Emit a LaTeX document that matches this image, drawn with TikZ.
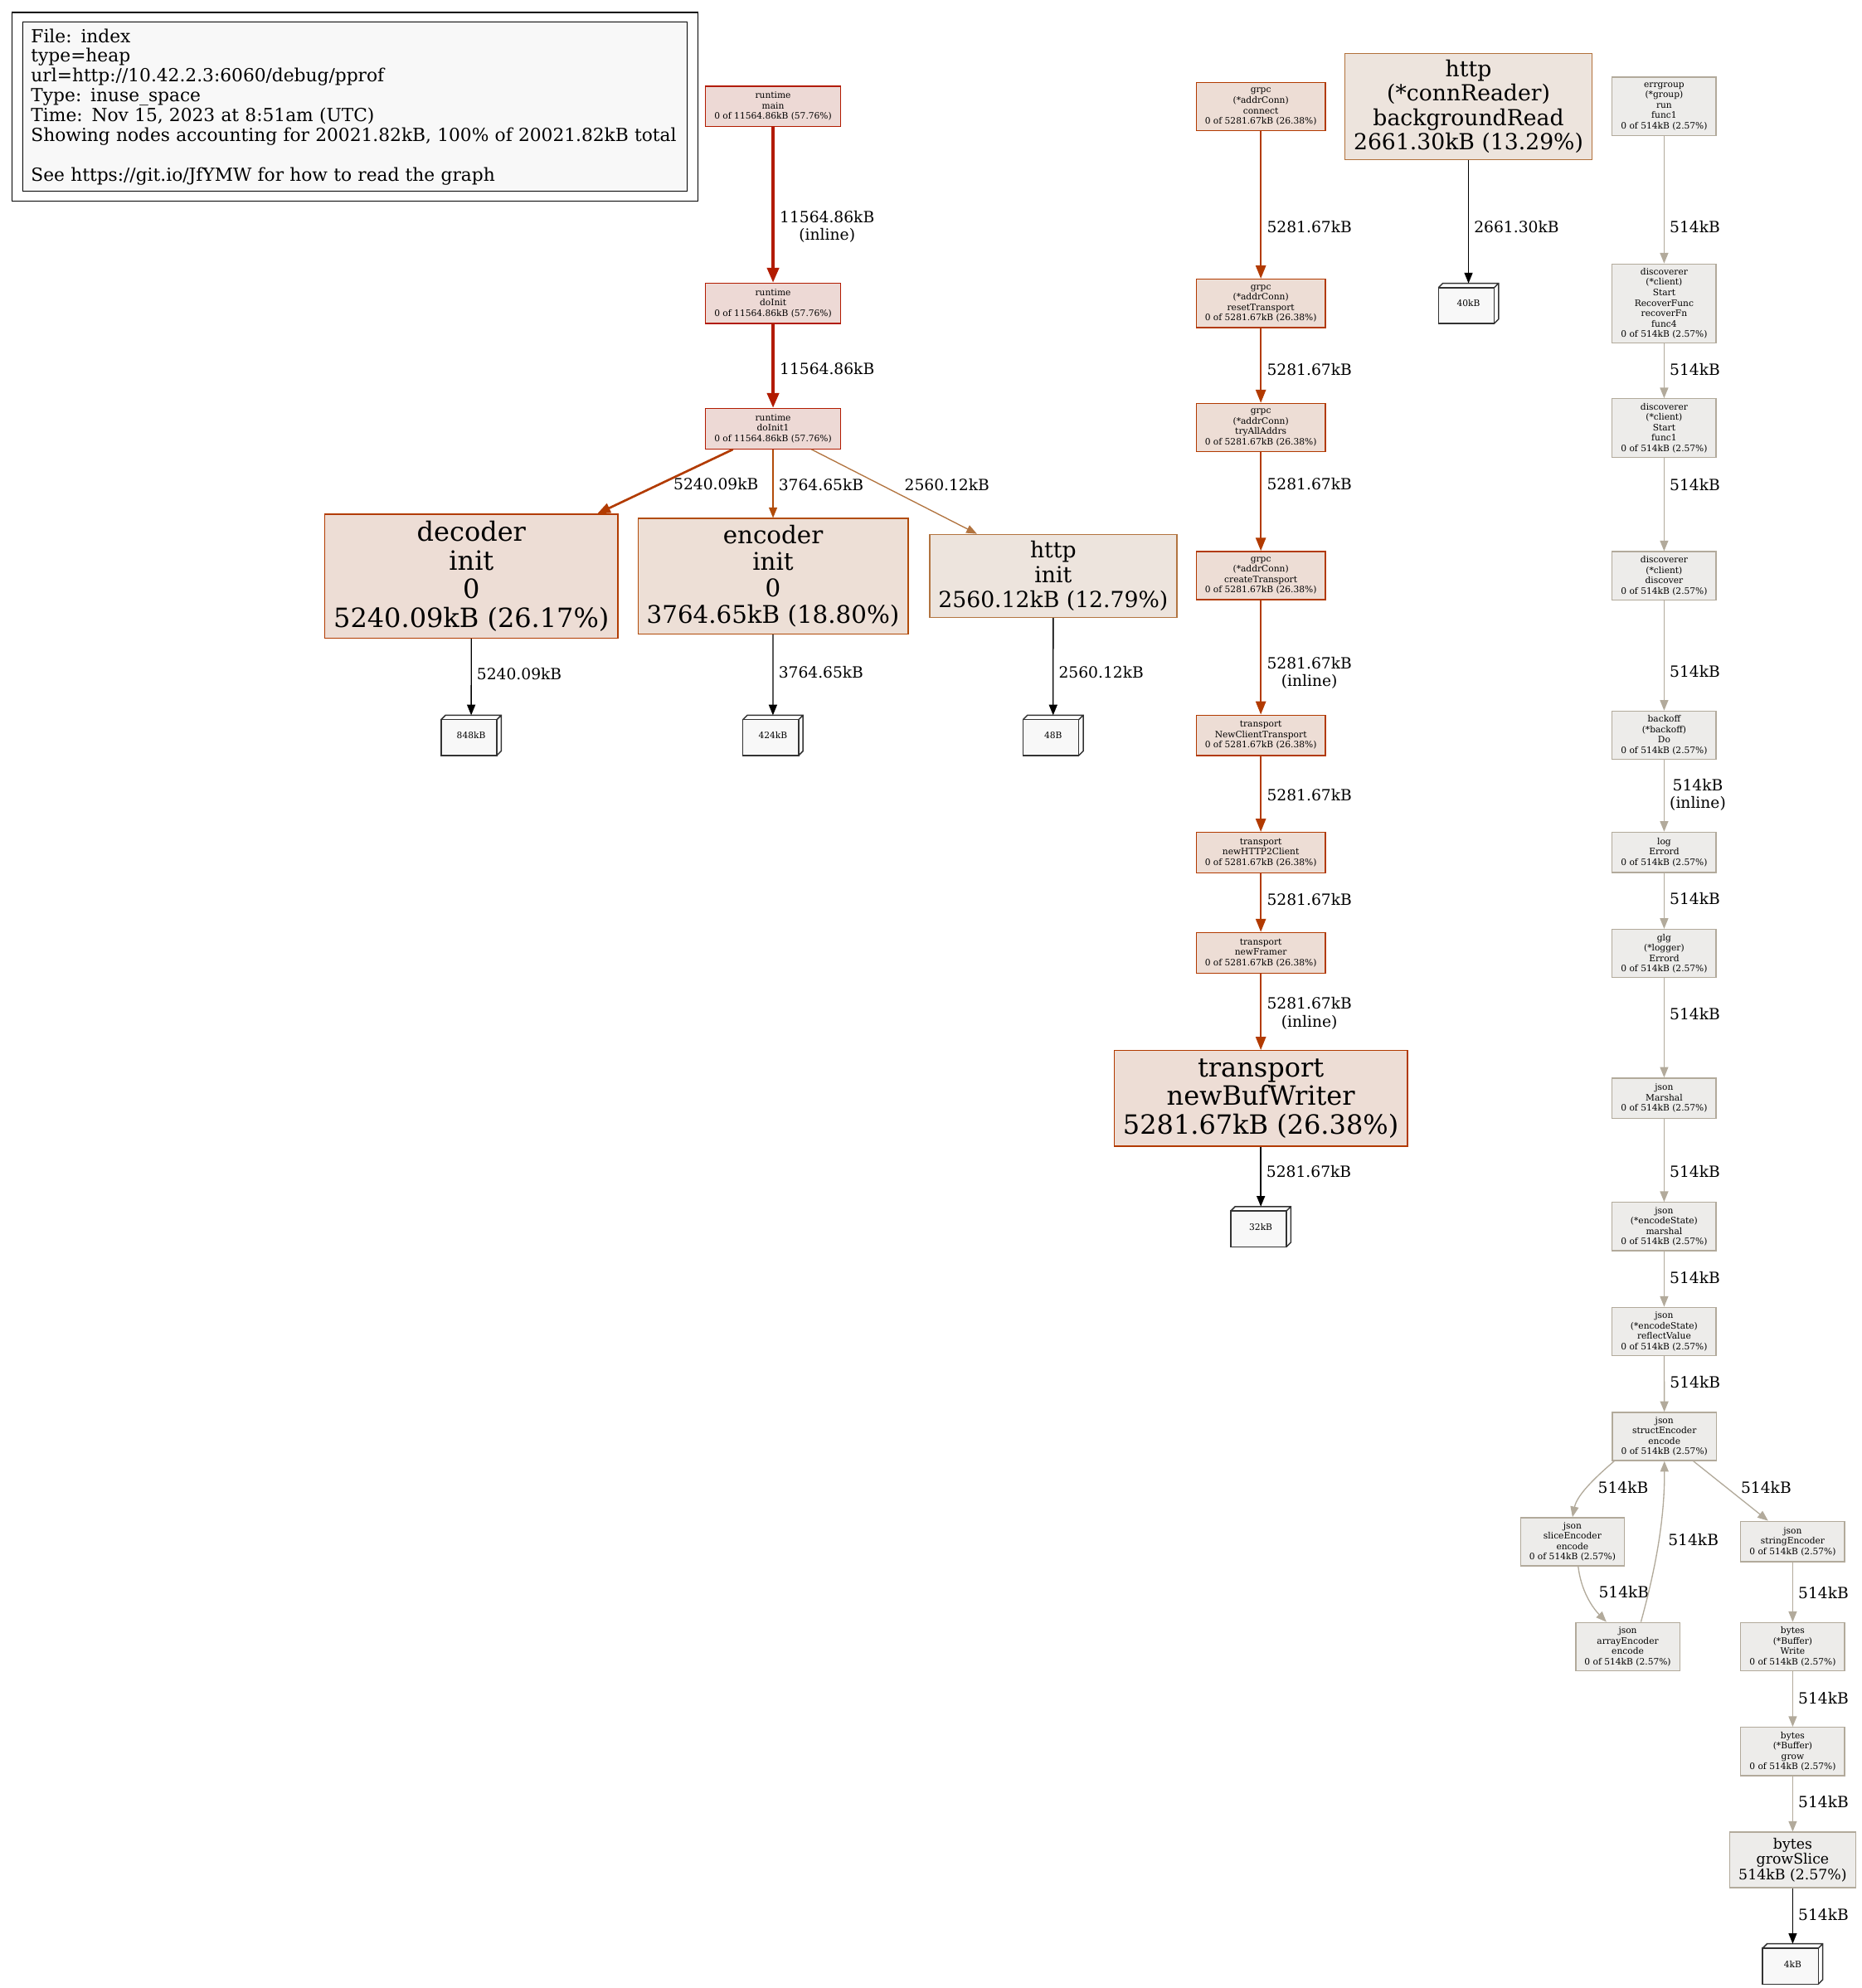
\documentclass[tikz,border=0pt]{standalone}
\usepackage{fontspec}
\setmainfont{DejaVu Serif}
\usepackage{tikz}
\usetikzlibrary{
  arrows.meta,
  calc,
  fit,
  backgrounds
}
\definecolor{pphotline} {HTML}{B21B00}
\definecolor{pphotfill} {HTML}{EDD9D5}
\definecolor{ppgrpcline}{HTML}{B23A00}
\definecolor{ppgrpcfill}{HTML}{EDDDD5}
\definecolor{ppdecline} {HTML}{B23B00}
\definecolor{ppencline} {HTML}{B24C0A}
\definecolor{ppencfill} {HTML}{EDDFD6}
\definecolor{ppbgline}  {HTML}{B2713B}
\definecolor{pphttpline}{HTML}{B27440}
\definecolor{ppwarmfill}{HTML}{EDE4DD}
\definecolor{ppcoolline}{HTML}{B2AA9B}
\definecolor{ppcoolfill}{HTML}{EDECEA}
\definecolor{ppleaf}    {HTML}{F8F8F8}

\begin{document}
\begin{tikzpicture}[
  x=1.1465pt, y=-1.1465pt,
  fn/.style={
    rectangle, draw, line width=1pt, align=center,
    inner xsep=7.9pt, inner ysep=1pt, font=\fontsize{8}{9.4}\selectfont
  },
  hot/.style={fn, draw=pphotline, fill=pphotfill},
  grpc/.style={fn, draw=ppgrpcline, fill=ppgrpcfill},
  cool/.style={fn, draw=ppcoolline, fill=ppcoolfill},
  lines3/.style={minimum height=36.5pt},
  lines4/.style={minimum height=43.6pt},
  lines5/.style={minimum height=53pt},
  lines7/.style={minimum height=71.3pt},
  leaf/.style={rectangle, minimum width=54pt, minimum height=36pt, inner sep=0pt,
    font=\fontsize{8}{9.4}\selectfont},
  cube/.style={draw=black!80, line width=1.1pt},
  legendtext/.style={draw, line width=1pt, fill=ppleaf, align=left, inner xsep=7.3pt,
    text width=585.8pt, minimum height=153.1pt, font=\fontsize{16.3}{17.9}\selectfont},
  lbl/.style={anchor=west, inner sep=0pt, align=center, xshift=4.6pt, text=black,
    font=\fontsize{14}{16}\selectfont},
  arr/.style={-{Triangle[length=9.5pt,width=7.5pt]}, line width=1pt},
  wide/.style={-{Triangle[length=12pt,width=9pt]}, line width=2pt},
  widest/.style={-{Triangle[length=13.5pt,width=10.5pt]}, line width=3pt},
  leafarr/.style={arr, black},
  coolarr/.style={arr, ppcoolline},
]

\begin{scope}[on background layer]
  \fill[white] (0,0) rectangle (1468,1568);
\end{scope}
\useasboundingbox (0,0) rectangle (1468,1568);

% Legend
\node[legendtext, anchor=north west] (legend) at (17.7,17)
  {File: index\\type=heap\\url=http://10.42.2.3:6060/debug/pprof\\Type: inuse\_space\\
   Time: Nov 15, 2023 at 8:51am (UTC)\\
   Showing nodes accounting for 20021.82kB, 100\% of 20021.82kB total\\[17.9pt]
   See https://git.io/JfYMW for how to read the graph};
\node[draw, line width=1pt, fit=(legend), inner xsep=9.5pt, inner ysep=8.3pt] (legendframe) {};

% runtime init
\node[hot, lines3] (rmain)    at (609.7,83.9)  {runtime\\main\\0 of 11564.86kB (57.76\%)};
\node[hot, lines3] (rdoinit)  at (609.7,239.3) {runtime\\doInit\\0 of 11564.86kB (57.76\%)};
\node[hot, lines3] (rdoinit1) at (609.7,338.1) {runtime\\doInit1\\0 of 11564.86kB (57.76\%)};

\node[fn, draw=ppdecline, fill=ppgrpcfill, minimum height=112pt,
  font=\fontsize{24}{26}\selectfont] (decinit) at (371.8,454.5)
  {decoder\\init\\0\\5240.09kB (26.17\%)};
\node[fn, draw=ppencline, fill=ppencfill, minimum height=104.5pt,
  font=\fontsize{22}{24.1}\selectfont] (encinit) at (609.7,454.5)
  {encoder\\init\\0\\3764.65kB (18.80\%)};
\node[fn, draw=pphttpline, fill=ppwarmfill, minimum height=75pt,
  font=\fontsize{20}{22.3}\selectfont] (httpinit) at (830.7,454.2)
  {http\\init\\2560.12kB (12.79\%)};

\node[leaf] (leaf848) at (371.6,580) {848kB};
\node[leaf] (leaf424) at (609.6,580) {424kB};
\node[leaf] (leaf48)  at (830.6,580) {48B};

% grpc / transport
\node[grpc, lines4] (gconnect) at (994.4,84.2)  {grpc\\(*addrConn)\\connect\\0 of 5281.67kB (26.38\%)};
\node[grpc, lines4] (greset)   at (994.4,239.3) {grpc\\(*addrConn)\\resetTransport\\0 of 5281.67kB (26.38\%)};
\node[grpc, lines4] (gtryall)  at (994.4,337.3) {grpc\\(*addrConn)\\tryAllAddrs\\0 of 5281.67kB (26.38\%)};
\node[grpc, lines4] (gcreate)  at (994.4,454)   {grpc\\(*addrConn)\\createTransport\\0 of 5281.67kB (26.38\%)};
\node[grpc, lines3] (tnewclient) at (994.4,580)   {transport\\NewClientTransport\\0 of 5281.67kB (26.38\%)};
\node[grpc, lines3] (tnewhttp2)  at (994.4,672.5) {transport\\newHTTP2Client\\0 of 5281.67kB (26.38\%)};
\node[grpc, lines3] (tnewframer) at (994.4,751.5) {transport\\newFramer\\0 of 5281.67kB (26.38\%)};
\node[grpc, minimum height=86.3pt, font=\fontsize{24}{26}\selectfont] (tnewbuf) at (994.4,866.3)
  {transport\\newBufWriter\\5281.67kB (26.38\%)};
\node[leaf] (leaf32) at (994.4,967.5) {32kB};

% http reader
\node[fn, draw=ppbgline, fill=ppwarmfill, minimum height=96.3pt,
  font=\fontsize{20}{22.1}\selectfont] (bgread) at (1158.2,84.05)
  {http\\(*connReader)\\backgroundRead\\2661.30kB (13.29\%)};
\node[leaf] (leaf40) at (1158.2,239.3) {40kB};

% discoverer / json / bytes
\node[cool, lines5] (errgroup)   at (1312.5,83.9)  {errgroup\\(*group)\\run\\func1\\0 of 514kB (2.57\%)};
\node[cool, lines7] (recoverfn)  at (1312.5,239.3) {discoverer\\(*client)\\Start\\RecoverFunc\\recoverFn\\func4\\0 of 514kB (2.57\%)};
\node[cool, lines5] (startfn)    at (1312.5,337.6) {discoverer\\(*client)\\Start\\func1\\0 of 514kB (2.57\%)};
\node[cool, lines4] (discover)   at (1312.5,454.1) {discoverer\\(*client)\\discover\\0 of 514kB (2.57\%)};
\node[cool, lines4] (backoff)    at (1312.5,579.9) {backoff\\(*backoff)\\Do\\0 of 514kB (2.57\%)};
\node[cool, lines3] (logerrord)  at (1312.5,672.3) {log\\Errord\\0 of 514kB (2.57\%)};
\node[cool, lines4] (glgerrord)  at (1312.5,752)   {glg\\(*logger)\\Errord\\0 of 514kB (2.57\%)};
\node[cool, lines3] (jmarshal)   at (1312.5,866.2) {json\\Marshal\\0 of 514kB (2.57\%)};
\node[cool, lines4] (jesmarshal) at (1312.5,967.4) {json\\(*encodeState)\\marshal\\0 of 514kB (2.57\%)};
\node[cool, lines4] (jreflect)   at (1312.5,1050.1) {json\\(*encodeState)\\reflectValue\\0 of 514kB (2.57\%)};
\node[cool, lines4] (jstruct)    at (1312.7,1133)  {json\\structEncoder\\encode\\0 of 514kB (2.57\%)};
\node[cool, lines4] (jslice)     at (1240.2,1216)  {json\\sliceEncoder\\encode\\0 of 514kB (2.57\%)};
\node[cool, lines3] (jstring)    at (1413.9,1215.8) {json\\stringEncoder\\0 of 514kB (2.57\%)};
\node[cool, lines4] (jarray)     at (1283.8,1298.7) {json\\arrayEncoder\\encode\\0 of 514kB (2.57\%)};
\node[cool, lines4] (bwrite)     at (1413.9,1298.7) {bytes\\(*Buffer)\\Write\\0 of 514kB (2.57\%)};
\node[cool, lines4] (bgrow)      at (1413.9,1381.4) {bytes\\(*Buffer)\\grow\\0 of 514kB (2.57\%)};
\node[cool, minimum height=50.2pt, font=\fontsize{13}{14.1}\selectfont] (bgrowslice) at (1413.9,1467)
  {bytes\\growSlice\\514kB (2.57\%)};
\node[leaf] (leaf4) at (1413.9,1549) {4kB};

% 3d boxes of the leaves
\begin{scope}[on background layer]
  \foreach \lf in {leaf848,leaf424,leaf48,leaf40,leaf32,leaf4}{
    \filldraw[cube, fill=ppleaf] (\lf.south west) rectangle ([xshift=-4pt,yshift=-4pt]\lf.north east);
    \draw[cube] ([yshift=-4pt]\lf.north west) -- ([xshift=4pt]\lf.north west) -- (\lf.north east)
      -- ([yshift=4pt]\lf.south east) -- ([xshift=-4pt]\lf.south east)
      ([xshift=-4pt,yshift=-4pt]\lf.north east) -- (\lf.north east);
  }
\end{scope}

% Arrows: runtime
\draw[widest, pphotline] (rmain) -- node[lbl, pos=0.64] {11564.86kB\\(inline)} (rdoinit);
\draw[widest, pphotline] (rdoinit) -- node[lbl, pos=0.53] {11564.86kB} (rdoinit1);
\draw[wide, ppdecline] ($(rdoinit1.south)+(-31.6,0)$)
  -- node[lbl, pos=0.534, xshift=6.3pt] {5240.09kB} ($(decinit.north)+(99.2,0)$);
\draw[arr, ppencline] (rdoinit1) -- node[lbl, pos=0.516] {3764.65kB} (encinit);
\draw[arr, pphttpline] ($(rdoinit1.south)+(30.3,0)$)
  -- node[lbl, pos=0.419, xshift=16.4pt] {2560.12kB} ($(httpinit.north)+(-60.2,0)$);
\draw[leafarr] (decinit) -- node[lbl, pos=0.456] {5240.09kB} (leaf848);
\draw[leafarr] (encinit) -- node[lbl, pos=0.467] {3764.65kB} (leaf424);
\draw[leafarr] (httpinit) -- node[lbl, pos=0.557] {2560.12kB} (leaf48);

% Arrows: grpc / transport
\draw[wide, ppgrpcline] (gconnect) -- node[lbl, pos=0.647] {5281.67kB} (greset);
\draw[wide, ppgrpcline] (greset) -- node[lbl, pos=0.55] {5281.67kB} (gtryall);
\draw[wide, ppgrpcline] (gtryall) -- node[lbl, pos=0.325] {5281.67kB} (gcreate);
\draw[wide, ppgrpcline] (gcreate) -- node[lbl, pos=0.637] {5281.67kB\\(inline)} (tnewclient);
\draw[wide, ppgrpcline] (tnewclient) -- node[lbl, pos=0.508] {5281.67kB} (tnewhttp2);
\draw[wide, ppgrpcline] (tnewhttp2) -- node[lbl, pos=0.44] {5281.67kB} (tnewframer);
\draw[wide, ppgrpcline] (tnewframer) -- node[lbl, pos=0.52] {5281.67kB\\(inline)} (tnewbuf);
\draw[leafarr] (tnewbuf) -- node[lbl, pos=0.42] {5281.67kB} (leaf32);
\draw[leafarr] (bgread) -- node[lbl, pos=0.544] {2661.30kB} (leaf40);

% Arrows: discoverer chain
\draw[coolarr] (errgroup) -- node[lbl, pos=0.712] {514kB} (recoverfn);
\draw[coolarr] (recoverfn) -- node[lbl, pos=0.47] {514kB} (startfn);
\draw[coolarr] (startfn) -- node[lbl, pos=0.285] {514kB} (discover);
\draw[coolarr] (discover) -- node[lbl, pos=0.647] {514kB} (backoff);
\draw[coolarr] (backoff) -- node[lbl, pos=0.487] {514kB\\(inline)} (logerrord);
\draw[coolarr] (logerrord) -- node[lbl, pos=0.46] {514kB} (glgerrord);
\draw[coolarr] (glgerrord) -- node[lbl, pos=0.36] {514kB} (jmarshal);
\draw[coolarr] (jmarshal) -- node[lbl, pos=0.636] {514kB} (jesmarshal);
\draw[coolarr] (jesmarshal) -- node[lbl, pos=0.47] {514kB} (jreflect);
\draw[coolarr] (jreflect) -- node[lbl, pos=0.47] {514kB} (jstruct);
\draw[coolarr] ($(jstruct.south)+(-39.6,0)$) .. controls (1262,1162) and (1244,1178) ..
  node[lbl, pos=0.5, xshift=2.3pt, yshift=-2.3pt] {514kB} (jslice.north);
\draw[coolarr] ($(jstruct.south)+(22.9,0)$)
  -- node[lbl, pos=0.44, xshift=8.2pt] {514kB} ($(jstring.north)+(-19.4,0)$);
\draw[coolarr] ($(jslice.south)+(4.5,0)$) .. controls (1247,1255) and (1256,1268) ..
  node[lbl, pos=0.5, xshift=4.4pt, yshift=5.2pt] {514kB} ($(jarray.north)+(-16.8,0)$);
\draw[coolarr] ($(jarray.north)+(10.4,0)$) .. controls (1305,1240) and (1313,1200) ..
  node[lbl, pos=0.5, xshift=4.2pt, yshift=5pt] {514kB} (jstruct.south);
\draw[coolarr] (jstring) -- node[lbl, pos=0.51] {514kB} (bwrite);
\draw[coolarr] (bwrite) -- node[lbl, pos=0.48] {514kB} (bgrow);
\draw[coolarr] (bgrow) -- node[lbl, pos=0.46] {514kB} (bgrowslice);
\draw[leafarr] (bgrowslice) -- node[lbl, pos=0.47] {514kB} (leaf4);
\end{tikzpicture}
\end{document}
